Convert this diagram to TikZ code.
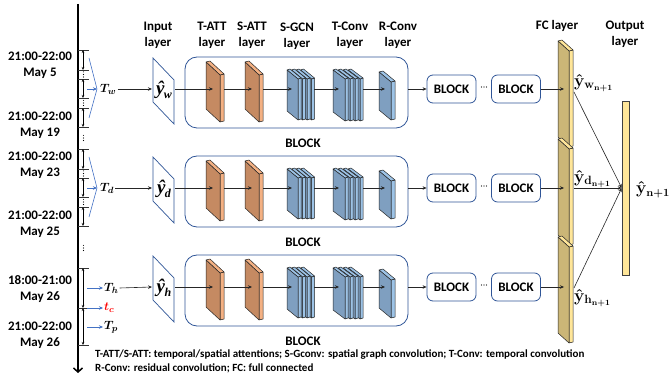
\documentclass[tikz,border=0pt]{standalone}
\usepackage{amsmath}
\usepackage{fontspec}
\setmainfont{Carlito}
\newfontfamily\lserif{Liberation Serif}
\usetikzlibrary{arrows.meta}
\definecolor{lblue}{HTML}{4472C4}
\definecolor{bborder}{HTML}{2F5597}
\definecolor{brownf}{HTML}{C58A62}
\definecolor{brownside}{HTML}{F4B183}
\definecolor{bluef}{HTML}{7F9FC0}
\definecolor{blueside}{HTML}{9DC3E6}
\definecolor{tanf}{HTML}{CBB677}
\definecolor{tanside}{HTML}{FFE699}
% #1 x, #2 y, #3 width, #4 shear, #5 height, #6 depth, #7 front, #8 side
\newcommand\myslab[8]{%
  \filldraw[slabline, fill=#8] (#1+#3,#2+#4) -- ++(#6,-1) -- ++(0,#5) -- (#1+#3,#2+#4+#5) -- cycle;
  \filldraw[slabline, fill=#8] (#1,#2) -- ++(#6,-1) -- (#1+#3+#6,#2+#4-1) -- (#1+#3,#2+#4) -- cycle;
  \filldraw[slabline, fill=#7] (#1,#2) -- (#1+#3,#2+#4) -- ++(0,#5) -- (#1,#2+#5) -- cycle;
}
\newcommand\inlab[1]{{\lserif\bfseries\itshape ŷ\kern-0.5pt\raisebox{-3.5pt}{\fontsize{12}{12}\selectfont #1}}}
\begin{document}
\begin{tikzpicture}[x=1pt,y=-1pt,
  slabline/.style={draw=black!85, line width=0.5pt, line join=round},
  lab/.style={font=\fontsize{13}{16}\selectfont\bfseries, align=center, inner sep=0pt},
  small/.style={font=\fontsize{11}{13}\selectfont\bfseries, inner sep=0pt, anchor=west},
  arr/.style={-{Stealth[length=4pt,width=3.5pt]}, line width=0.6pt, draw=black!85},
  barr/.style={-{Stealth[length=4pt,width=3.5pt]}, line width=0.6pt, draw=lblue},
  bline/.style={line width=0.6pt, draw=lblue},
  tick/.style={line width=0.8pt, draw=black!80},
  darr/.style={{Stealth[length=3pt,width=2.5pt]}-{Stealth[length=3pt,width=2.5pt]}, line width=0.6pt},
  bigblock/.style={draw=bborder, line width=0.8pt, rounded corners=12pt, minimum width=223pt, minimum height=71pt},
  smallblock/.style={draw=bborder, line width=0.8pt, rounded corners=6pt, minimum width=49pt, minimum height=28pt, font=\fontsize{13}{15}\selectfont\bfseries},
  inshape/.style={draw=bborder, line width=0.7pt, fill=white},
  tlab/.style={inner sep=1pt, anchor=west, font=\fontsize{13}{15}\selectfont\boldmath},
  fclab/.style={inner sep=0pt, anchor=west, font=\fontsize{17}{19}\selectfont\boldmath}
]
\useasboundingbox (0,0) rectangle (672,379);

% ---------- time axis ----------
\draw[line width=1.5pt, -{Straight Barb[length=4pt,width=9pt]}] (78,4) -- (78,373);
\foreach \t in {50,70,79,98,108,127,149,169,178,197,207,226,268,308,345}
  \draw[tick] (78,\t) -- (89,\t);
\foreach \a/\b in {50/70,79/98,108/127,149/169,178/197,207/226,268/308,308/345}
  \draw[darr] (83,\a) -- (83,\b);
\foreach \d in {74.5,103,138,173.5,202,248}
  \foreach \e in {-2.6,0,2.6}
    \fill (83.5,\d+\e) circle[radius=0.6];

% date labels
\node[lab] at (40,65) {21:00-22:00\\May 5};
\node[lab] at (40,125) {21:00-22:00\\May 19};
\node[lab] at (40,165) {21:00-22:00\\May 23};
\node[lab] at (40,224.5) {21:00-22:00\\May 25};
\node[lab] at (40,289.5) {18:00-21:00\\May 26};
\node[lab] at (40,335) {21:00-22:00\\May 26};

% ---------- headers ----------
\node[lab] at (158,35) {Input\\layer};
\node[lab] at (212,35) {T-ATT\\layer};
\node[lab] at (252,35) {S-ATT\\layer};
\node[lab] at (297,36.5) {S-GCN\\layer};
\node[lab] at (350,35) {T-Conv\\layer};
\node[lab] at (398,35) {R-Conv\\layer};
\node[lab] at (557,26) {FC layer};
\node[lab] at (625,34) {Output\\layer};

% ---------- time interval inputs ----------
\foreach \r/\yr/\tl in {1/89/w,2/188/d}{
  \coordinate (v\r) at (97,\yr);
  \draw[bline] (89,\yr-31) -- (v\r);
  \draw[bline] (89,\yr+29) -- (v\r);
  \draw[barr] (87,\yr) -- (v\r);
  \node[tlab] (T\r) at (99,\yr) {$T_{\tl}$};
}
\node[tlab] (T3) at (103,288) {$T_{h}$};
\node[tlab, text=red] (tc) at (103,308) {$t_{c}$};
\node[tlab] (Tp) at (103,327) {$T_{p}$};
\draw[barr] (87,288) -- (T3.west);
\draw[barr] (87,308) -- (tc.west);
\draw[barr] (87,327) -- (Tp.west);

% ---------- rows ----------
\foreach \r/\yr/\tl in {1/89/w,2/188/d,3/287/h}{
  % input layer
  \draw[inshape] (153,\yr-31) -- (174,\yr-9) -- (174,\yr+35) -- (153,\yr+13) -- cycle;
  \node[inner sep=0pt, font=\fontsize{19}{21}\selectfont] (yin\r) at (164,\yr+1) {\inlab{\tl}};
  \coordinate (inL\r) at (152,\yr);
  \coordinate (inR\r) at (175,\yr);
  \draw[arr] (T\r.east) -- (inL\r);
  % block
  \node[bigblock] (blk\r) at (296.5,\yr+3.5) {};
  \node[lab] at (303,\yr+54) {BLOCK};
  % layers
  \myslab{206}{\yr-27}{14}{13}{47}{4}{brownf}{brownside}
  \myslab{245}{\yr-27}{14}{13}{47}{4}{brownf}{brownside}
  \foreach \k in {3,2,1,0}{\myslab{287+4.5*\k}{\yr-19}{11}{9}{41}{3}{bluef}{blueside}}
  \foreach \k in {3,2,1,0}{\myslab{333+5*\k}{\yr-19}{12}{9}{42}{3}{bluef}{blueside}}
  \myslab{379}{\yr-17}{12}{10}{38}{4}{bluef}{blueside}
  \coordinate (ta\r) at (213,\yr);   \coordinate (taR\r) at (224,\yr);
  \coordinate (sa\r) at (252,\yr);   \coordinate (saR\r) at (263,\yr);
  \coordinate (sg\r) at (292,\yr);   \coordinate (sgR\r) at (314,\yr);
  \coordinate (tcv\r) at (339,\yr);  \coordinate (tcvR\r) at (363,\yr);
  \coordinate (rc\r) at (385,\yr);
  \draw[arr] (inR\r) -- (ta\r);
  \draw[arr] (taR\r) -- (sa\r);
  \draw[arr] (saR\r) -- (sg\r);
  \draw[arr] (sgR\r) -- (tcv\r);
  \draw[arr] (tcvR\r) -- (rc\r);
  % small blocks
  \node[smallblock] (bA\r) at (451.5,\yr) {BLOCK};
  \node[smallblock] (bB\r) at (516,\yr) {BLOCK};
  \foreach \e in {-2.5,0,2.5}
    \fill (484+\e,\yr-2) circle[radius=0.55];
  \draw[arr] (blk\r.east |- bA\r.west) -- (bA\r.west);
}

% ---------- FC layer ----------
\foreach \r/\yr in {1/89,2/188,3/287}{
  \myslab{558}{41+98*\r-98}{11}{10}{96}{4}{tanf}{tanside}
}
\foreach \r/\yr in {1/89,2/188,3/287}{
  \coordinate (fc\r) at (564,\yr);
  \draw[arr] (bB\r.east) -- (fc\r);
}
\node[fclab] at (574,83) {$\hat{\mathbf{y}}_{\mathbf{w}_{\mathbf{n+1}}}$};
\node[fclab] at (574,179) {$\hat{\mathbf{y}}_{\mathbf{d}_{\mathbf{n+1}}}$};
\node[fclab] at (574,298) {$\hat{\mathbf{y}}_{\mathbf{h}_{\mathbf{n+1}}}$};

% ---------- output layer ----------
\node[draw=black!75, line width=0.6pt, fill=tanside, minimum width=7pt, minimum height=174pt, inner sep=0pt] (out) at (625.5,188) {};
\coordinate (fo1) at (574,92);
\coordinate (fo2) at (574,188);
\coordinate (fo3) at (574,288);
\draw[arr] (fo1) -- (out.west);
\draw[arr] (fo2) -- (out.west);
\draw[arr] (fo3) -- (out.west);
\node[inner sep=0pt, anchor=west, font=\fontsize{16}{18}\selectfont\boldmath] at (636,190) {$\hat{\mathbf{y}}_{\mathbf{n+1}}$};

% ---------- legend ----------
\node[small] at (95,355) {T-ATT/S-ATT: temporal/spatial attentions; S-Gconv: spatial graph convolution; T-Conv: temporal convolution};
\node[small] at (95,368) {R-Conv: residual convolution; FC: full connected};
\end{tikzpicture}
\end{document}
